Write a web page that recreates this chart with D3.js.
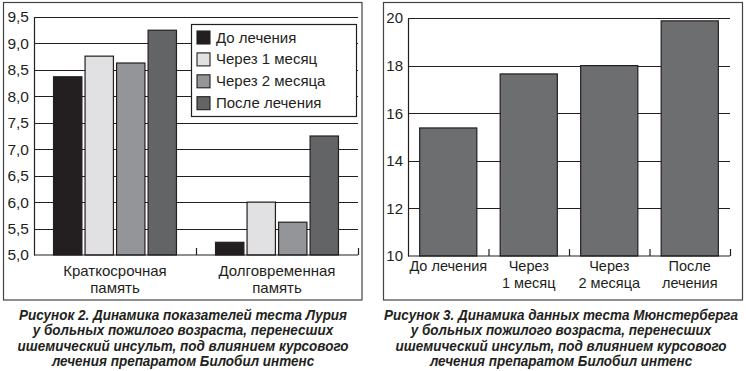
<!DOCTYPE html>
<html>
<head>
<meta charset="utf-8">
<script src="https://cdn.jsdelivr.net/npm/d3@7"></script>
<style>
  body { margin: 0; background: #fff; }
  svg text { font-family: "Liberation Sans", Arial, sans-serif; fill: #231f20; }
</style>
</head>
<body>
<div id="chart"></div>
<script>
// Figure 2 data (Luria test)
var groups = ["Краткосрочная|память", "Долговременная|память"];
var seriesNames = ["До лечения", "Через 1 месяц", "Через 2 месяца", "После лечения"];
var seriesColors = ["#231f20", "#e1e1e3", "#939598", "#636466"];
var shortTerm = [8.37, 8.76, 8.63, 9.25];
var longTerm = [5.24, 6.0, 5.62, 7.25];
var leftTicks = [5.0, 5.5, 6.0, 6.5, 7.0, 7.5, 8.0, 8.5, 9.0, 9.5];

// Figure 3 data (Munsterberg test)
var stages = ["До лечения", "Через|1 месяц", "Через|2 месяца", "После|лечения"];
var stageValues = [15.38, 17.65, 18.0, 19.88];
var rightTicks = [10, 12, 14, 16, 18, 20];

var captionLeft = ["Рисунок 2. Динамика показателей теста Лурия", "у больных пожилого возраста, перенесших",
  "ишемический инсульт, под влиянием курсового", "лечения препаратом Билобил интенс"];
var captionRight = ["Рисунок 3. Динамика данных теста Мюнстерберга", "у больных пожилого возраста, перенесших",
  "ишемический инсульт, под влиянием курсового", "лечения препаратом Билобил интенс"];

var svg = d3.select("#chart").append("svg")
    .attr("width", 746)
    .attr("height", 371);

// frames
svg.append("rect").attr("x", 3.5).attr("y", 2.5).attr("width", 358.5).attr("height", 297.5)
    .attr("fill", "none").attr("stroke", "#444").attr("stroke-width", 1.2);
svg.append("rect").attr("x", 383.5).attr("y", 2.5).attr("width", 359).attr("height", 297.5)
    .attr("fill", "none").attr("stroke", "#444").attr("stroke-width", 1.2);

function commaFmt(d) { return d3.format(".1f")(d).replace(".", ","); }

function multiline(sel, x, y, lines, lh) {
    lines.forEach(function (l, i) {
        sel.append("text").attr("x", x).attr("y", y + i * lh)
            .attr("text-anchor", "middle").text(l);
    });
}

// ---------- left chart ----------
var L = {left: 34, right: 358, top: 17, bottom: 255};
var yL = d3.scaleLinear().domain([5, 9.5]).range([L.bottom, L.top]);
var xL = d3.scaleBand().domain(groups).range([L.left, L.right]);
var xInner = d3.scaleBand().domain(seriesNames).range([0, xL.bandwidth()]).paddingInner(0.1).paddingOuter(0.62);

var gL = svg.append("g");

// gridlines
gL.selectAll("line.grid").data(leftTicks.slice(1)).enter().append("line")
    .attr("x1", L.left).attr("x2", L.right)
    .attr("y1", function (d) { return Math.round(yL(d)) + 0.5; })
    .attr("y2", function (d) { return Math.round(yL(d)) + 0.5; })
    .attr("stroke", "#231f20").attr("stroke-width", 1.1);

var leftData = [shortTerm, longTerm];
groups.forEach(function (g, gi) {
    gL.selectAll("rect.b" + gi).data(leftData[gi]).enter().append("rect")
        .attr("x", function (d, i) { return xL(g) + xInner(seriesNames[i]); })
        .attr("y", function (d) { return yL(d); })
        .attr("width", xInner.bandwidth())
        .attr("height", function (d) { return L.bottom - yL(d); })
        .attr("fill", function (d, i) { return seriesColors[i]; })
        .attr("stroke", "#231f20").attr("stroke-width", 1.2);
});

// y axis
var axL = gL.append("g").attr("transform", "translate(" + L.left + ",0)")
    .call(d3.axisLeft(yL).tickValues(leftTicks).tickFormat(commaFmt).tickSize(0).tickPadding(5));
axL.select(".domain").attr("stroke", "#231f20").attr("stroke-width", 1.2);
axL.selectAll("text").attr("font-size", "15.5px").attr("fill", "#231f20");

// x axis with inward ticks at band edges
var axLx = gL.append("g").attr("transform", "translate(0," + L.bottom + ")")
    .call(d3.axisBottom(d3.scaleLinear().domain([0, 2]).range([L.left, L.right])).tickValues([1, 2]).tickSize(-7).tickFormat(""));
axLx.select(".domain").attr("d", "M" + L.left + ",0H" + L.right).attr("stroke", "#231f20").attr("stroke-width", 1.2);
axLx.selectAll(".tick line").attr("stroke", "#231f20").attr("stroke-width", 1.2);

groups.forEach(function (g) {
    var t = gL.append("g").attr("font-size", "15px");
    multiline(t, xL(g) + xL.bandwidth() / 2, 276, g.split("|"), 17);
});

// legend
var leg = gL.append("g");
leg.append("rect").attr("x", 191.5).attr("y", 24.5).attr("width", 165).attr("height", 92)
    .attr("fill", "#fff").attr("stroke", "#231f20").attr("stroke-width", 1.2);
var li = leg.selectAll("g.item").data(seriesNames).enter().append("g")
    .attr("transform", function (d, i) { return "translate(197," + (31 + i * 21.9) + ")"; });
li.append("rect").attr("width", 13).attr("height", 13)
    .attr("fill", function (d, i) { return seriesColors[i]; })
    .attr("stroke", "#231f20").attr("stroke-width", 1.1);
li.append("text").attr("x", 19).attr("y", 11.5).attr("font-size", "15px").text(function (d) { return d; });

// ---------- right chart ----------
var R = {left: 408, right: 730, top: 18, bottom: 256};
var yR = d3.scaleLinear().domain([10, 20]).range([R.bottom, R.top]);
var xR = d3.scaleBand().domain(stages).range([R.left, R.right]).paddingInner(0.29).paddingOuter(0.145);
var edge = d3.scaleBand().domain(stages).range([R.left, R.right]);

var gR = svg.append("g");
gR.selectAll("line.grid").data(rightTicks.slice(1)).enter().append("line")
    .attr("x1", R.left).attr("x2", R.right)
    .attr("y1", function (d) { return Math.round(yR(d)) + 0.5; })
    .attr("y2", function (d) { return Math.round(yR(d)) + 0.5; })
    .attr("stroke", "#231f20").attr("stroke-width", 1.1);

gR.selectAll("rect.bar").data(stageValues).enter().append("rect")
    .attr("x", function (d, i) { return xR(stages[i]); })
    .attr("y", function (d) { return yR(d); })
    .attr("width", xR.bandwidth())
    .attr("height", function (d) { return R.bottom - yR(d); })
    .attr("fill", "#6d6e70")
    .attr("stroke", "#231f20").attr("stroke-width", 1.2);

var axR = gR.append("g").attr("transform", "translate(" + R.left + ",0)")
    .call(d3.axisLeft(yR).tickValues(rightTicks).tickSize(0).tickPadding(5));
axR.select(".domain").attr("stroke", "#231f20").attr("stroke-width", 1.2);
axR.selectAll("text").attr("font-size", "15px").attr("fill", "#231f20");

var edgeVals = stages.slice(1).map(function (s) { return edge(s); }).concat([R.right]);
var axRx = gR.append("g").attr("transform", "translate(0," + R.bottom + ")")
    .call(d3.axisBottom(d3.scaleIdentity()).tickValues(edgeVals).tickSize(-7).tickFormat(""));
axRx.select(".domain").attr("d", "M" + R.left + ",0H" + R.right).attr("stroke", "#231f20").attr("stroke-width", 1.2);
axRx.selectAll(".tick line").attr("stroke", "#231f20").attr("stroke-width", 1.2);

stages.forEach(function (s) {
    var t = gR.append("g").attr("font-size", "14.5px");
    multiline(t, edge(s) + edge.bandwidth() / 2, 271, s.split("|"), 17);
});

// ---------- captions ----------
// condensed look: larger bold italic squeezed horizontally
function caption(cx, lines) {
    var g = svg.append("g").attr("transform", "translate(" + cx + ",0) scale(0.9,1)")
        .attr("font-size", "15px").attr("font-weight", "bold").attr("font-style", "italic");
    lines.forEach(function (l, i) {
        g.append("text").attr("x", 0).attr("y", 320 + i * 15.3)
            .attr("text-anchor", "middle").text(l);
    });
}
caption(183, captionLeft);
caption(561, captionRight);
</script>
</body>
</html>
